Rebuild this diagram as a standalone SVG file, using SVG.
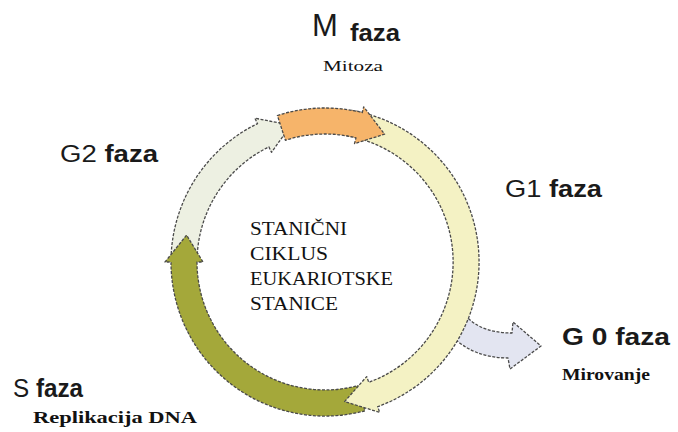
<svg xmlns="http://www.w3.org/2000/svg" width="678" height="432" viewBox="0 0 678 432">
<style>
.arc{stroke:#4a4a4a;stroke-width:1.3;stroke-dasharray:3 1.5;stroke-linejoin:round}
.lab{font-family:"Liberation Sans",Arial,sans-serif;fill:#1a1a1a}
.b{font-weight:bold}
.ser{font-family:"Liberation Serif","Times New Roman",serif;fill:#111}
</style>
<rect width="678" height="432" fill="#ffffff"/>
<g id="connectors">
<path id="arrow-g0" class="arc" fill="#E3E5F1" d="M460,308 C470,325 488,333 512,333 L513,322 L541,346 L510,369 L508,358 C485,358 465,350 452,336 Z"/>
</g>
<g id="node-g2">
<path class="arc" fill="#EDF0E2" d="M171.2,253.9 A154,154 0 0,1 257.5,123.6 L254.9,118.2 L290.9,125.2 L271.5,152.3 L268.9,146.9 A128,128 0 0,0 197.2,255.3 Z"/>
<text class="lab" x="60" y="162" font-size="23" textLength="98" lengthAdjust="spacingAndGlyphs">G2 <tspan class="b">faza</tspan></text>
</g>
<g id="node-s">
<path class="arc" fill="#A4A83A" d="M364.9,410.8 A154,154 0 0,1 171,262 L165,262 L186.6,235.1 L203,262 L197,262 A128,128 0 0,0 358.1,385.6 Z"/>
<text class="lab" x="13" y="397" font-size="25" textLength="70" lengthAdjust="spacingAndGlyphs">S <tspan class="b">faza</tspan></text>
<text class="ser b" x="33" y="423" font-size="16" textLength="164" lengthAdjust="spacingAndGlyphs">Replikacija DNA</text>
</g>
<g id="node-g1">
<path class="arc" fill="#F4F2C4" d="M351.7,110.3 A154,154 0 0,1 377.7,406.7 L379.7,412.4 L344.6,401.6 L366.7,376.6 L368.8,382.3 A128,128 0 0,0 347.2,135.9 Z"/>
<text class="lab" x="505" y="197" font-size="24" textLength="97" lengthAdjust="spacingAndGlyphs">G1 <tspan class="b">faza</tspan></text>
</g>
<g id="node-m">
<path class="arc" fill="#F6B46A" d="M277.4,115.5 A154,154 0 0,1 362.3,112.6 L363.7,106.8 L384.6,134.2 L354.5,143.6 L356.0,137.8 A128,128 0 0,0 285.4,140.3 Z"/>
<text class="lab" x="312" y="36" font-size="31">M</text>
<text class="lab b" x="350" y="41" font-size="23" textLength="50" lengthAdjust="spacingAndGlyphs">faza</text>
<text class="ser" x="323" y="71" font-size="14" textLength="60" lengthAdjust="spacingAndGlyphs">Mitoza</text>
</g>
<g id="node-g0">
<text class="lab b" x="562" y="345" font-size="24" textLength="108" lengthAdjust="spacingAndGlyphs">G 0  faza</text>
<text class="ser b" x="562" y="380" font-size="16" textLength="88" lengthAdjust="spacingAndGlyphs">Mirovanje</text>
</g>
<g id="node-center">
<text class="ser" font-size="19.5">
<tspan x="250" y="235" textLength="97" lengthAdjust="spacingAndGlyphs">STANIČNI</tspan>
<tspan x="250" y="260" textLength="78" lengthAdjust="spacingAndGlyphs">CIKLUS</tspan>
<tspan x="250" y="285" textLength="143" lengthAdjust="spacingAndGlyphs">EUKARIOTSKE</tspan>
<tspan x="250" y="310" textLength="88" lengthAdjust="spacingAndGlyphs">STANICE</tspan>
</text>
</g>
</svg>
